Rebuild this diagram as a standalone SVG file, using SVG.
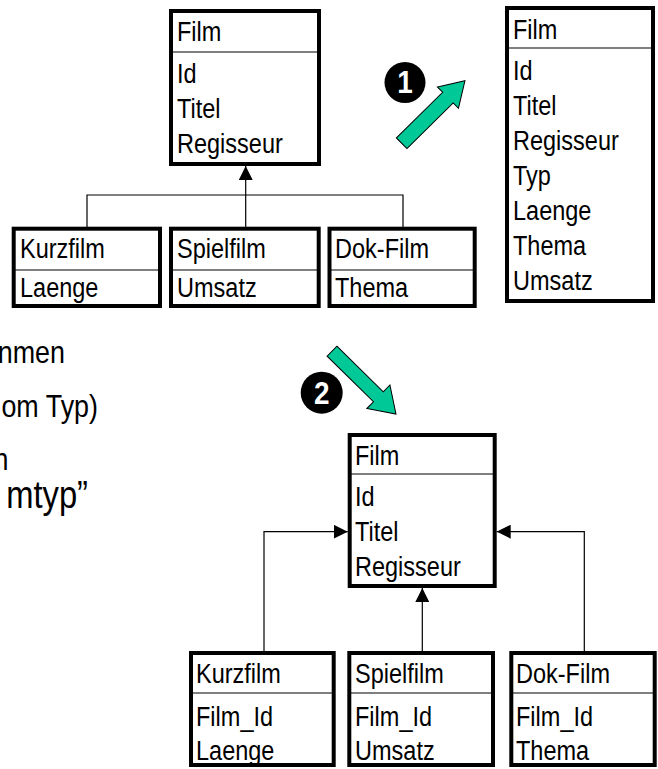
<svg xmlns="http://www.w3.org/2000/svg" width="658" height="769" viewBox="0 0 658 769">
<style>
text{font-family:"Liberation Sans",Arial,sans-serif;font-size:28px;fill:#000;transform-box:fill-box;transform-origin:0 50%;transform:scaleX(0.84);}
.box{fill:#fff;stroke:#000;stroke-width:4;}
.div{stroke:#000;stroke-width:1.2;}
.con{fill:none;stroke:#000;stroke-width:1.2;}
.big{fill:#00C896;stroke:#000;stroke-width:1;}
.num{font-weight:bold;font-size:31px;fill:#fff;text-anchor:middle;transform-origin:50% 50%;transform:scaleX(0.9);}
.side{font-size:32px;text-anchor:end;transform-origin:100% 50%;}
</style>
<defs>
<marker id="tri" viewBox="0 0 14 14" refX="14" refY="7" markerWidth="14" markerHeight="14" markerUnits="userSpaceOnUse" orient="auto">
<path d="M0,0 L14,7 L0,14 Z" fill="#000"/>
</marker>
</defs>

<!-- side text fragments -->
<g id="side-text">
<text class="side" x="65" y="363">nmen</text>
<text class="side" x="98" y="417">om Typ)</text>
<text class="side" x="8.5" y="470">n</text>
<text class="side" x="88" y="508" style="font-size:39px">mtyp”</text>
</g>

<!-- connectors -->
<g id="connectors">
<path class="con" d="M87,227 V195 H403 V227"/>
<path class="con" d="M245.7,227 V166" marker-end="url(#tri)"/>
<path class="con" d="M264,651 V531.7 H347.7" marker-end="url(#tri)"/>
<path class="con" d="M584.3,651 V531.7 H496.7" marker-end="url(#tri)"/>
<path class="con" d="M422.3,651 V588" marker-end="url(#tri)"/>
</g>

<!-- top-left Film -->
<g id="film-top">
<rect class="box" x="171" y="11" width="148" height="153"/>
<line class="div" x1="171" y1="52" x2="319" y2="52"/>
<text x="177" y="41">Film</text>
<text x="177" y="83">Id</text>
<text x="177" y="118">Titel</text>
<text x="177" y="153">Regisseur</text>
</g>

<g id="kurzfilm-top">
<rect class="box" x="13.7" y="228.7" width="146.3" height="77.3"/>
<line class="div" x1="13.7" y1="270" x2="160" y2="270"/>
<text x="20" y="258.5">Kurzfilm</text>
<text x="20" y="297.5">Laenge</text>
</g>

<g id="spielfilm-top">
<rect class="box" x="171" y="228.7" width="147.7" height="77.3"/>
<line class="div" x1="171" y1="270" x2="318.7" y2="270"/>
<text x="177" y="258.5">Spielfilm</text>
<text x="177" y="297.5">Umsatz</text>
</g>

<g id="dokfilm-top">
<rect class="box" x="329.5" y="228.7" width="145.2" height="77.3"/>
<line class="div" x1="329.5" y1="270" x2="474.7" y2="270"/>
<text x="335" y="258.5">Dok-Film</text>
<text x="335" y="297.5">Thema</text>
</g>

<!-- right Film -->
<g id="film-right">
<rect class="box" x="507" y="8" width="146" height="293"/>
<line class="div" x1="507" y1="48" x2="653" y2="48"/>
<text x="513" y="39">Film</text>
<text x="513" y="80">Id</text>
<text x="513" y="115">Titel</text>
<text x="513" y="150">Regisseur</text>
<text x="513" y="185">Typ</text>
<text x="513" y="220">Laenge</text>
<text x="513" y="255">Thema</text>
<text x="513" y="290">Umsatz</text>
</g>

<!-- step 1 -->
<g id="step1">
<polygon class="big" transform="translate(401.7,143.3) rotate(-44.7)" points="0,-7.5 65,-7.5 65,-15 89,0 65,15 65,7.5 0,7.5"/>
<circle cx="405" cy="82.5" r="20.5" fill="#000"/>
<text class="num" x="405" y="93.5">1</text>
</g>

<!-- step 2 -->
<g id="step2">
<polygon class="big" transform="translate(332,351.2) rotate(44.5)" points="0,-7 65,-7 65,-16.5 89.7,0 65,16.5 65,7 0,7"/>
<circle cx="321.7" cy="392.7" r="21" fill="#000"/>
<text class="num" x="321.7" y="403.7">2</text>
</g>

<!-- bottom Film -->
<g id="film-bottom">
<rect class="box" x="349.7" y="435" width="145" height="151"/>
<line class="div" x1="349.7" y1="474" x2="494.7" y2="474"/>
<text x="355" y="465">Film</text>
<text x="355" y="506">Id</text>
<text x="355" y="541">Titel</text>
<text x="355" y="576">Regisseur</text>
</g>

<g id="kurzfilm-bottom">
<rect class="box" x="191" y="653" width="142.7" height="112"/>
<line class="div" x1="191" y1="693" x2="333.7" y2="693"/>
<text x="196" y="683">Kurzfilm</text>
<text x="196" y="726">Film_Id</text>
<text x="196" y="760">Laenge</text>
</g>

<g id="spielfilm-bottom">
<rect class="box" x="349.3" y="653" width="143.7" height="112"/>
<line class="div" x1="349.3" y1="693" x2="493" y2="693"/>
<text x="355" y="683">Spielfilm</text>
<text x="355" y="726">Film_Id</text>
<text x="355" y="760">Umsatz</text>
</g>

<g id="dokfilm-bottom">
<rect class="box" x="511.3" y="653" width="143.4" height="112"/>
<line class="div" x1="511.3" y1="693" x2="654.7" y2="693"/>
<text x="516" y="683">Dok-Film</text>
<text x="516" y="726">Film_Id</text>
<text x="516" y="760">Thema</text>
</g>
</svg>
